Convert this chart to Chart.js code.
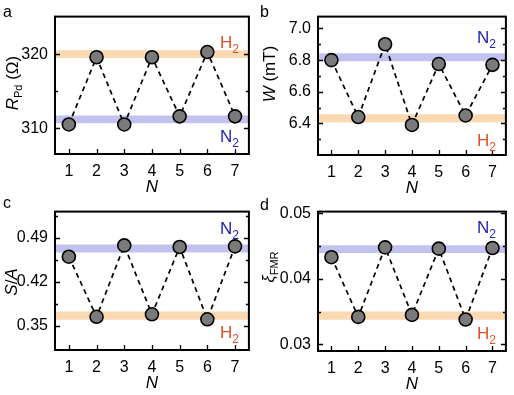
<!DOCTYPE html>
<html>
<head>
<meta charset="utf-8">
<script src="https://cdn.jsdelivr.net/npm/chart.js@4.4.0/dist/chart.umd.min.js"></script>
<style>
    html, body { margin: 0; padding: 0; background: #fff; }
    body { width: 514px; height: 395px; position: relative; overflow: hidden; }
    canvas { position: absolute; }
</style>
</head>
<body>
<canvas id="panelA" width="257" height="197" style="left:0;top:0"></canvas>
<canvas id="panelB" width="257" height="197" style="left:257px;top:0"></canvas>
<canvas id="panelC" width="257" height="200" style="left:0;top:195px"></canvas>
<canvas id="panelD" width="257" height="200" style="left:257px;top:195px"></canvas>
<script>
// cycle number N
const cycles = [1, 2, 3, 4, 5, 6, 7];

// measured values per cycle
const rPd = [310.5, 319.6, 310.5, 319.6, 311.6, 320.3, 311.6];
const width = [6.80, 6.44, 6.90, 6.39, 6.775, 6.45, 6.77];
const sOverA = [0.460, 0.364, 0.478, 0.368, 0.4755, 0.360, 0.4765];
const xiFmr = [0.0433, 0.0342, 0.0448, 0.0345, 0.0446, 0.0338, 0.0447];

// gas bands [low, high]
const rPdH2 = [319.5, 320.55], rPdN2 = [310.65, 311.7];
const widthN2 = [6.792, 6.843], widthH2 = [6.406, 6.458];
const saN2 = [0.4667, 0.4796], saH2 = [0.3593, 0.3723];
const xiN2 = [0.04393, 0.04512], xiH2 = [0.03378, 0.03502];

// axis ticks
const rPdTicks = [310, 320], rPdMinor = [315];
const widthTicks = [6.4, 6.6, 6.8, 7.0], widthMinor = [6.3, 6.5, 6.7, 6.9];
const saTicks = [0.35, 0.42, 0.49], saMinor = [0.385, 0.455, 0.525];
const xiTicks = [0.03, 0.04, 0.05], xiMinor = [0.035, 0.045];

const FONT = "'Liberation Sans', Arial, sans-serif";
const H2_BAND = '#fad9b3', N2_BAND = '#c2c2ee';
const H2_TEXT = '#e0502a', N2_TEXT = '#2323b0';
const X_MIN = 0.5, X_MAX = 7.5;

function drawRich(ctx, parts, x, y, align) {
    let w = 0;
    parts.forEach(p => { ctx.font = p[1]; w += ctx.measureText(p[0]).width; });
    let cx = align === 'right' ? x - w : align === 'center' ? x - w / 2 : x;
    parts.forEach(p => {
        ctx.font = p[1];
        ctx.fillText(p[0], cx, y + (p[2] || 0));
        cx += ctx.measureText(p[0]).width;
    });
}

// frame, inward ticks, gas labels, axis titles
const decoPlugin = {
    id: 'deco',
    afterDraw(chart, args, o) {
        const ctx = chart.ctx;
        const a = chart.chartArea;
        const xs = chart.scales.x, ys = chart.scales.y;
        ctx.save();
        ctx.strokeStyle = '#000';
        ctx.fillStyle = '#000';

        ctx.lineWidth = 1.3;
        ctx.beginPath();
        o.major.forEach(v => {
            const py = Math.round(ys.getPixelForValue(v)) + 0.5;
            ctx.moveTo(a.left, py); ctx.lineTo(a.left + 5, py);
            ctx.moveTo(a.right, py); ctx.lineTo(a.right - 5, py);
        });
        o.minor.forEach(v => {
            const py = Math.round(ys.getPixelForValue(v)) + 0.5;
            ctx.moveTo(a.left, py); ctx.lineTo(a.left + 3, py);
            ctx.moveTo(a.right, py); ctx.lineTo(a.right - 3, py);
        });
        cycles.forEach(n => {
            const px = Math.round(xs.getPixelForValue(n)) + 0.5;
            ctx.moveTo(px, a.bottom); ctx.lineTo(px, a.bottom - 5);
        });
        ctx.stroke();

        ctx.lineWidth = 2;
        ctx.strokeRect(a.left, a.top, a.right - a.left, a.bottom - a.top);

        // gas labels
        ctx.textBaseline = 'alphabetic';
        o.gas.forEach(g => {
            const yEdge = g.side === 'above'
                ? ys.getPixelForValue(g.band[1]) - g.gap
                : ys.getPixelForValue(g.band[0]) + g.gap + 12.2;
            ctx.fillStyle = g.color;
            drawRich(ctx, [[g.name, '17px ' + FONT], ['2', '12px ' + FONT, 5]], a.right - 10, yEdge, 'right');
        });

        ctx.fillStyle = '#000';
        // panel letter
        ctx.font = '16px ' + FONT;
        ctx.fillText(o.letter, 3, o.letterY);

        // x title
        ctx.font = 'italic 17px ' + FONT;
        ctx.textAlign = 'center';
        ctx.fillText('N', (a.left + a.right) / 2, a.bottom + 38);
        ctx.textAlign = 'left';

        // y title, rotated
        ctx.translate(o.titleX, o.titleY);
        ctx.rotate(-Math.PI / 2);
        drawRich(ctx, o.title, 0, 6, 'center');
        ctx.restore();
    }
};

function bandSets(band, color) {
    return [
        { data: [{ x: X_MIN, y: band[0] }, { x: X_MAX, y: band[0] }], borderColor: 'transparent', borderWidth: 0, pointRadius: 0, fill: false, order: 2 },
        { data: [{ x: X_MIN, y: band[1] }, { x: X_MAX, y: band[1] }], borderColor: 'transparent', borderWidth: 0, pointRadius: 0, fill: '-1', backgroundColor: color, order: 2 }
    ];
}

function makePanel(id, p) {
    const series = {
        data: cycles.map((n, i) => ({ x: n, y: p.values[i] })),
        borderColor: '#000',
        borderWidth: 1.7,
        borderDash: [5, 4],
        pointRadius: 6.5,
        pointBackgroundColor: '#7a7a7a',
        pointBorderColor: '#000',
        pointBorderWidth: 1.6,
        fill: false,
        tension: 0,
        order: 0
    };
    const datasets = [series];
    p.gas.forEach(g => datasets.push(...bandSets(g.band, g.name === 'H' ? H2_BAND : N2_BAND)));

    new Chart(document.getElementById(id), {
        type: 'line',
        data: { datasets: datasets },
        options: {
            responsive: false,
            animation: false,
            layout: { padding: { top: p.top, right: 7, left: 0, bottom: 0 } },
            plugins: {
                legend: { display: false },
                tooltip: { enabled: false },
                deco: p.deco
            },
            scales: {
                x: {
                    type: 'linear',
                    min: X_MIN,
                    max: X_MAX,
                    afterBuildTicks: s => { s.ticks = cycles.map(v => ({ value: v })); },
                    afterFit: s => { s.height = p.xH; },
                    grid: { display: false, drawTicks: false },
                    border: { display: false },
                    ticks: { color: '#000', font: { family: FONT, size: 16 }, padding: 8, maxRotation: 0 }
                },
                y: {
                    type: 'linear',
                    min: p.yMin,
                    max: p.yMax,
                    afterBuildTicks: s => { s.ticks = p.ticks.map(v => ({ value: v })); },
                    afterFit: s => { s.width = p.yW; },
                    grid: { display: false, drawTicks: false },
                    border: { display: false },
                    ticks: {
                        color: '#000',
                        font: { family: FONT, size: 16 },
                        padding: 7,
                        callback: v => v.toFixed(p.dec)
                    }
                }
            }
        },
        plugins: [decoPlugin]
    });
}

function gasDeco(p) {
    return p.gas.map(g => ({
        name: g.name, band: g.band, side: g.side, gap: g.gap,
        color: g.name === 'H' ? H2_TEXT : N2_TEXT
    }));
}

const panels = [
    {
        id: 'panelA', values: rPd, yMin: 306.5, yMax: 325.1, ticks: rPdTicks, minor: rPdMinor, dec: 0,
        top: 10, yW: 55, xH: 43,
        gas: [{ name: 'H', band: rPdH2, side: 'above', gap: 2 }, { name: 'N', band: rPdN2, side: 'below', gap: 6 }],
        letter: 'a', letterY: 17, titleX: 12, titleY: 83,
        title: [['R', 'italic 17px ' + FONT], ['Pd', '11px ' + FONT, 4], [' (\u03a9)', '17px ' + FONT]]
    },
    {
        id: 'panelB', values: width, yMin: 6.2, yMax: 7.075, ticks: widthTicks, minor: widthMinor, dec: 1,
        top: 13, yW: 61, xH: 42,
        gas: [{ name: 'N', band: widthN2, side: 'above', gap: 10 }, { name: 'H', band: widthH2, side: 'below', gap: 11 }],
        letter: 'b', letterY: 17, titleX: 12, titleY: 74,
        title: [['W', 'italic 17px ' + FONT], [' (mT)', '17px ' + FONT]]
    },
    {
        id: 'panelC', values: sOverA, yMin: 0.311, yMax: 0.532, ticks: saTicks, minor: saMinor, dec: 2,
        top: 13, yW: 55, xH: 45,
        gas: [{ name: 'N', band: saN2, side: 'above', gap: 10 }, { name: 'H', band: saH2, side: 'below', gap: 6 }],
        letter: 'c', letterY: 13, titleX: 11, titleY: 87,
        title: [['S', 'italic 17px ' + FONT], ['/', '17px ' + FONT], ['A', 'italic 17px ' + FONT]]
    },
    {
        id: 'panelD', values: xiFmr, yMin: 0.029, yMax: 0.05025, ticks: xiTicks, minor: xiMinor, dec: 2,
        top: 13, yW: 61, xH: 44,
        gas: [{ name: 'N', band: xiN2, side: 'above', gap: 12.7 }, { name: 'H', band: xiH2, side: 'below', gap: 7 }],
        letter: 'd', letterY: 15, titleX: 11, titleY: 72,
        title: [['\u03be', 'italic 16px ' + FONT], ['FMR', '11px ' + FONT, 4]]
    }
];

panels.forEach(p => {
    p.deco = { major: p.ticks, minor: p.minor, gas: gasDeco(p), letter: p.letter, letterY: p.letterY, titleX: p.titleX, titleY: p.titleY, title: p.title };
    makePanel(p.id, p);
});
</script>
</body>
</html>
